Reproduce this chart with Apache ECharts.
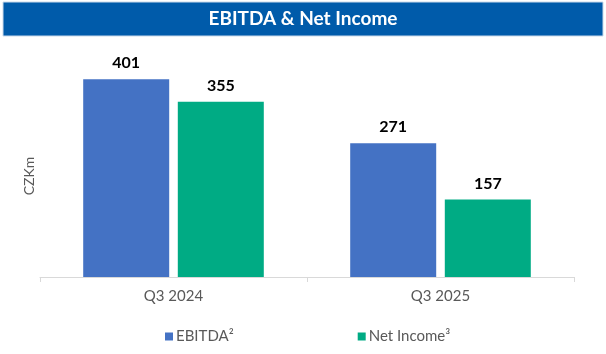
<!DOCTYPE html>
<html>
<head>
<meta charset="utf-8">
<script src="https://cdn.jsdelivr.net/npm/echarts@6/dist/echarts.min.js"></script>
<style>
  html, body { margin: 0; padding: 0; background: #fff; }
  #main { width: 606px; height: 354px; }
</style>
</head>
<body>
<div id="main"></div>
<script>
// chart data
const categories = ['Q3 2024', 'Q3 2025'];
const ebitda = [401, 271];
const netIncome = [355, 157];
const seriesNames = ['EBITDA²', 'Net Income³'];

const font = 'Lato, "Open Sans", sans-serif';

let chart = echarts.init(document.getElementById('main'));

const labelStyle = {
    show: true,
    position: 'top',
    distance: 8,
    color: '#000',
    fontWeight: 'bold',
    fontSize: 16,
    fontFamily: font
};

let option = {
    backgroundColor: '#fff',
    animation: false,
    graphic: [
        {
            type: 'rect',
            shape: { x: 3, y: 2, width: 600, height: 34 },
            style: { fill: '#005BAA', stroke: '#c9d9ea', lineWidth: 1 },
            z: 0
        },
        {
            type: 'text',
            x: 303,
            y: 19,
            style: {
                text: 'EBITDA & Net Income',
                fill: '#fff',
                fontSize: 19,
                fontWeight: 'bold',
                fontFamily: font,
                align: 'center',
                verticalAlign: 'middle'
            },
            z: 1
        }
    ],
    legend: {
        left: 160,
        top: 324,
        itemWidth: 8,
        itemHeight: 8,
        itemGap: 124,
        icon: 'rect',
        textStyle: { color: '#595959', fontSize: 15, fontFamily: font, padding: [0, 0, 0, -2] },
        data: seriesNames
    },
    grid: { left: 40, right: 32, top: 55, bottom: 77 },
    xAxis: {
        type: 'category',
        data: categories,
        axisLine: { lineStyle: { color: '#d9d9d9' } },
        axisTick: { show: true, length: 5, lineStyle: { color: '#d9d9d9' } },
        axisLabel: { color: '#595959', fontSize: 15, fontFamily: font, margin: 12 }
    },
    yAxis: {
        type: 'value',
        min: 0,
        max: 450,
        name: 'CZKm',
        nameLocation: 'middle',
        nameGap: 4,
        nameTextStyle: { color: '#595959', fontSize: 14, fontFamily: font, padding: [0, 20, 0, 0] },
        axisLine: { show: false },
        axisTick: { show: false },
        axisLabel: { show: false },
        splitLine: { show: false }
    },
    series: [
        {
            name: seriesNames[0],
            type: 'bar',
            data: ebitda,
            barWidth: 86,
            barGap: '10%',
            itemStyle: { color: '#4472C4' },
            label: labelStyle
        },
        {
            name: seriesNames[1],
            type: 'bar',
            data: netIncome,
            barWidth: 86,
            itemStyle: { color: '#00AB84' },
            label: labelStyle
        }
    ]
};

chart.setOption(option);
</script>
</body>
</html>
